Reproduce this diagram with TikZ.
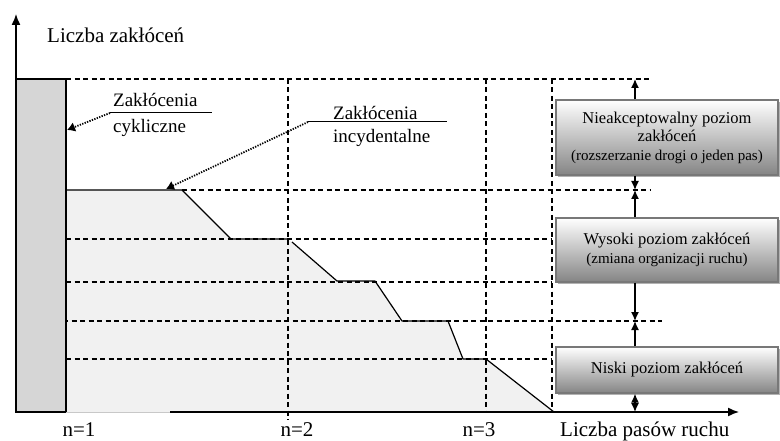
\documentclass[tikz,border=0pt]{standalone}
\usepackage{fontspec}
\setmainfont{Liberation Serif}
\usepackage{tikz}
\usetikzlibrary{arrows.meta,positioning,calc,shadows}
\definecolor{barfill}{RGB}{214,214,214}
\definecolor{areafill}{RGB}{241,241,241}
\definecolor{boxedge}{RGB}{120,120,120}
\definecolor{axisgray}{RGB}{200,200,200}
\newcommand{\lvlnote}[1]{{\fontsize{15}{18}\selectfont #1}}
\tikzset{
  level/.style={draw=boxedge, line width=1.3pt, top color=white, bottom color=black!48,
    align=center, font=\fontsize{16.5}{18.5}\selectfont, inner sep=0pt,
    minimum width=222pt, drop shadow={shadow xshift=2pt, shadow yshift=-2pt,
    fill=black!30, opacity=1}},
  grid/.style={dash pattern=on 5pt off 3.5pt, line width=1.1pt},
  axis/.style={-{Latex[length=11pt,width=9pt]}, line width=1.4pt},
  arrow/.style={-{Latex[length=9pt,width=8pt]}, line width=1.4pt},
  pointer/.style={-{Latex[length=8pt,width=10pt]}, dash pattern=on 1.3pt off 1.3pt,
    line width=1.8pt},
  rule/.style={line width=1pt},
  stepline/.style={line width=1.2pt, line join=round},
  note/.style={font=\fontsize{19}{22}\selectfont, inner sep=0pt},
  axislabel/.style={font=\fontsize{21}{24}\selectfont, inner sep=0pt},
}

\begin{document}
\begin{tikzpicture}[x=1pt, y=-1pt]
  \useasboundingbox (0,0) rectangle (780,441);
  % axes origin and tips
  \coordinate (O) at (16,412);
  \coordinate (ytip) at (16,14);
  \coordinate (xgap) at (170,412);
  \coordinate (xtip) at (739,412);
  % area below the steps
  \fill[areafill] (66,190) -- (182,190) -- (231,239) -- (288,239) -- (292,242)
    -- (337,281) -- (375,281) -- (402,321) -- (448,321) -- (463,359) -- (486,359)
    -- (554,412) -- (66,412) -- cycle;
  % dashed levels
  \draw[grid] (66,79) -- (650,79);
  \draw[grid] (182,190) -- (650,190);
  \draw[grid] (66,239) -- (552,239);
  \draw[grid] (66,282) -- (552,282);
  \draw[grid] (63,321) -- (662,321);
  \draw[grid] (66,359) -- (552,359);
  \draw[grid] (288,79) -- (288,420);
  \draw[grid] (486,79) -- (486,412);
  \draw[grid] (552,79) -- (552,412);
  % steps
  \draw[stepline] (66,190) -- (182,190) -- (231,239) -- (288,239);
  \draw[stepline] (292,242) -- (337,281) -- (375,281) -- (402,321) -- (448,321)
    -- (463,359) -- (486,359) -- (554,412);
  % cyclic bar
  \draw[line width=1.3pt, fill=barfill] (16,412) rectangle (66,79);
  % axes
  \draw[axisgray, line width=1pt] (66,412) -- (xgap);
  \draw[axis] (O) -- (ytip);
  \draw[axis] (xgap) -- (xtip);
  \node[axislabel, anchor=base west] (ylab) at (47,43) {Liczba zakłóceń};
  \node[axislabel, anchor=base west] (xlab) at (560,436) {Liczba pasów ruchu};
  \node[axislabel, anchor=base] (n1) at (79,436) {n=1};
  \node[axislabel, anchor=base] (n2) at (297,436) {n=2};
  \node[axislabel, anchor=base] (n3) at (479,436) {n=3};
  % pointers
  \node[note, anchor=base west] (cycA) at (113,107) {Zakłócenia};
  \node[note, anchor=base west] (cycB) at (113,133) {cykliczne};
  \coordinate (cycL) at (110,113);
  \coordinate (cycR) at (212,113);
  \coordinate (cycT) at (67,130);
  \draw[rule] (cycL) -- (cycR);
  \draw[pointer] (cycL) -- (cycT);
  \node[note, anchor=base west] (incA) at (333,120) {Zakłócenia};
  \node[note, anchor=base west] (incB) at (333,143) {incydentalne};
  \coordinate (incL) at (308,122);
  \coordinate (incR) at (447,122);
  \coordinate (incT) at (166,189);
  \draw[rule] (incL) -- (incR);
  \draw[pointer] (incL) -- (incT);
  % levels
  \node[level, minimum height=75pt] (lev1) at (667,137.5)
    {Nieakceptowalny poziom\\zakłóceń\\\lvlnote{(rozszerzanie drogi o jeden pas)}};
  \node[level, minimum height=64pt] (lev2) at (667,250)
    {Wysoki poziom zakłóceń\\\lvlnote{(zmiana organizacji ruchu)}};
  \node[level, minimum height=46pt] (lev3) at (667,370) {Niski poziom zakłóceń};
  \coordinate (ax) at (635,0);
  \coordinate (lvA) at (635,79);
  \coordinate (lvB) at (635,190);
  \coordinate (lvC) at (635,321);
  \coordinate (lvD) at (635,412);
  \draw[arrow] (lev1.north -| ax) -- (lvA);
  \draw[arrow] (lev1.south -| ax) -- (lvB);
  \draw[arrow] (lev2.north -| ax) -- (lvB);
  \draw[arrow] (lev2.south -| ax) -- (lvC);
  \draw[arrow] (lev3.north -| ax) -- (lvC);
  \draw[arrow, {Latex[length=9pt,width=8pt]}-{Latex[length=9pt,width=8pt]}]
    (lev3.south -| ax) -- (lvD);
\end{tikzpicture}
\end{document}
